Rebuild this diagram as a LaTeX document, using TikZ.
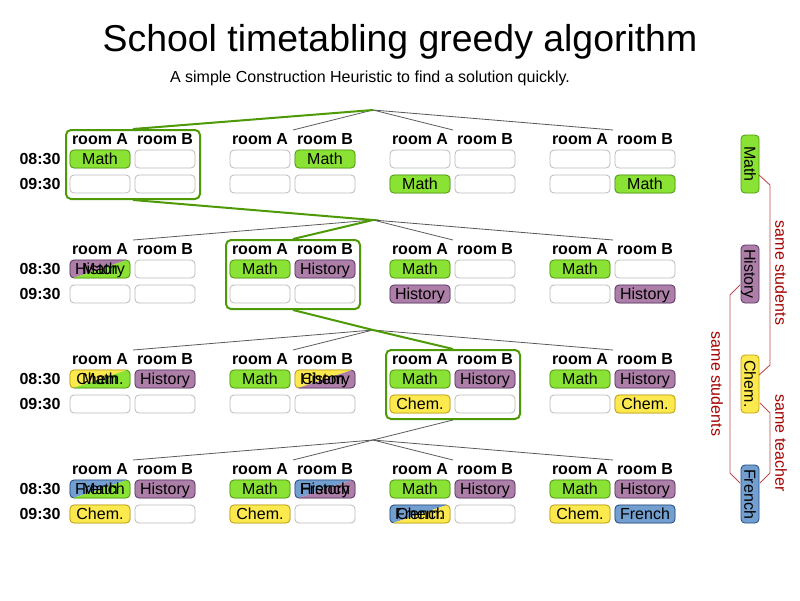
\documentclass[tikz,border=0pt]{standalone}
\usepackage{fontspec}
\setmainfont{Liberation Sans}
\usetikzlibrary{calc}
\definecolor{mathfill}{HTML}{8AE234}\definecolor{mathline}{HTML}{4E9A06}
\definecolor{histfill}{HTML}{AD7FA8}\definecolor{histline}{HTML}{5C3566}
\definecolor{chemfill}{HTML}{FCE94F}\definecolor{chemline}{HTML}{C4A000}
\definecolor{frenfill}{HTML}{729FCF}\definecolor{frenline}{HTML}{204A87}
\definecolor{emptyline}{HTML}{BABABA}
\definecolor{hlgreen}{HTML}{4E9A06}
\definecolor{conred}{HTML}{A40000}
\tikzset{
  cellbox/.style={rectangle, rounded corners=4pt, minimum width=60pt, minimum height=18pt,
    inner sep=0pt, line width=0.8pt, text height=11.5pt, text depth=0pt,
    font=\fontsize{16}{16}\selectfont},
  csEmpty/.style={draw=emptyline, fill=white},
  csMath/.style={draw=mathline, fill=mathfill},
  csHist/.style={draw=histline, fill=histfill},
  csChem/.style={draw=chemline, fill=chemfill},
  csFren/.style={draw=frenline, fill=frenfill},
  roomlbl/.style={font=\bfseries\fontsize{16}{16}\selectfont, inner sep=0pt},
  timelbl/.style={font=\bfseries\fontsize{16}{16}\selectfont, inner sep=0pt},
  hlbox/.style={draw=hlgreen, line width=2pt, rounded corners=5pt, minimum width=134pt, minimum height=69pt, inner sep=0pt},
  greenline/.style={draw=hlgreen, line width=2pt},
  thinline/.style={draw=black!65, line width=0.8pt},
  sidebox/.style={cellbox, rotate=-90, minimum width=58pt},
  conline/.style={draw=conred!70, line width=0.9pt},
  conlbl/.style={text=conred, rotate=-90, font=\fontsize{16}{16}\selectfont, inner sep=0pt},
}
\newcommand\course[6]{%
  \pgfmathsetmacro\cX{100+160*#2+65*#4}%
  \pgfmathsetmacro\cY{159+110*#1+25*#3}%
  \node[cellbox,#5] (k-#1-#2-#3-#4) at (\cX,\cY) {#6};}
\newcommand\clash[8]{%
  \pgfmathsetmacro\cX{100+160*#2+65*#4}%
  \pgfmathsetmacro\cY{159+110*#1+25*#3}%
  \begin{scope}
    \clip ({\cX-33},{\cY-11}) -- ({\cX+33},{\cY-11}) -- ({\cX-33},{\cY+11}) -- cycle;
    \node[cellbox,#5] at (\cX,\cY) {};
  \end{scope}
  \begin{scope}
    \clip ({\cX+33},{\cY-11}) -- ({\cX+33},{\cY+11}) -- ({\cX-33},{\cY+11}) -- cycle;
    \node[cellbox,#6] at (\cX,\cY) {};
  \end{scope}
  \node[cellbox] (k-#1-#2-#3-#4) at (\cX,\cY) {#7};
  \node[cellbox] (k2-#1-#2-#3-#4) at (\cX,\cY) {#8};}
\begin{document}
\begin{tikzpicture}[x=1pt,y=-1pt]
\useasboundingbox (0,0) rectangle (800,600);
\node[font=\fontsize{37.4}{37.4}\selectfont] (title) at (400,42) {School timetabling greedy algorithm};
\node[font=\fontsize{16}{16}\selectfont] (subtitle) at (370,78) {A simple Construction Heuristic to find a solution quickly.};
% coordinates
\foreach \L in {0,...,3}{
  \coordinate (hub-\L) at (373,{110+110*\L});
  \foreach \G in {0,...,3}{
    \coordinate (top-\L-\G) at ({133+160*\G},{130+110*\L});
  }
}
% highlight boxes
\node[hlbox] (hl-0) at (133,164.5) {};
\node[hlbox] (hl-1) at (293,274.5) {};
\node[hlbox] (hl-2) at (453,384.5) {};
% search tree lines
\draw[thinline] (hub-0) -- (top-0-1);
\draw[thinline] (hub-0) -- (top-0-2);
\draw[thinline] (hub-0) -- (top-0-3);
\draw[greenline] (hub-0) -- (hl-0.north);
\draw[thinline] (hub-1) -- (top-1-0);
\draw[thinline] (hub-1) -- (top-1-2);
\draw[thinline] (hub-1) -- (top-1-3);
\draw[greenline] (hl-0.south) -- (hub-1) -- (hl-1.north);
\draw[thinline] (hub-2) -- (top-2-0);
\draw[thinline] (hub-2) -- (top-2-1);
\draw[thinline] (hub-2) -- (top-2-3);
\draw[greenline] (hl-1.south) -- (hub-2) -- (hl-2.north);
\draw[thinline] (hl-2.south) -- (hub-3);
\foreach \G in {0,...,3}{\draw[thinline] (hub-3) -- (top-3-\G);}
% grid
\foreach \L in {0,...,3}{
  \node[timelbl] (t1-\L) at (40,{159+110*\L}) {08:30};
  \node[timelbl] (t2-\L) at (40,{184+110*\L}) {09:30};
  \foreach \G in {0,...,3}{
    \node[roomlbl] (ra-\L-\G) at ({100+160*\G},{139+110*\L}) {room A};
    \node[roomlbl] (rb-\L-\G) at ({165+160*\G},{139+110*\L}) {room B};
    \foreach \R in {0,1}{
      \foreach \C in {0,1}{
        \node[cellbox,csEmpty] (e-\L-\G-\R-\C) at ({100+160*\G+65*\C},{159+110*\L+25*\R}) {};
      }
    }
  }
}
% level 0
\course{0}{0}{0}{0}{csMath}{Math}
\course{0}{1}{0}{1}{csMath}{Math}
\course{0}{2}{1}{0}{csMath}{Math}
\course{0}{3}{1}{1}{csMath}{Math}
% level 1
\clash{1}{0}{0}{0}{csHist}{csMath}{History}{Math}
\course{1}{1}{0}{0}{csMath}{Math}
\course{1}{1}{0}{1}{csHist}{History}
\course{1}{2}{0}{0}{csMath}{Math}
\course{1}{2}{1}{0}{csHist}{History}
\course{1}{3}{0}{0}{csMath}{Math}
\course{1}{3}{1}{1}{csHist}{History}
% level 2
\clash{2}{0}{0}{0}{csChem}{csMath}{Chem.}{Math}
\course{2}{0}{0}{1}{csHist}{History}
\course{2}{1}{0}{0}{csMath}{Math}
\clash{2}{1}{0}{1}{csChem}{csHist}{Chem.}{History}
\course{2}{2}{0}{0}{csMath}{Math}
\course{2}{2}{0}{1}{csHist}{History}
\course{2}{2}{1}{0}{csChem}{Chem.}
\course{2}{3}{0}{0}{csMath}{Math}
\course{2}{3}{0}{1}{csHist}{History}
\course{2}{3}{1}{1}{csChem}{Chem.}
% level 3
\clash{3}{0}{0}{0}{csFren}{csMath}{French}{Math}
\course{3}{0}{0}{1}{csHist}{History}
\course{3}{0}{1}{0}{csChem}{Chem.}
\course{3}{1}{0}{0}{csMath}{Math}
\clash{3}{1}{0}{1}{csFren}{csHist}{French}{History}
\course{3}{1}{1}{0}{csChem}{Chem.}
\course{3}{2}{0}{0}{csMath}{Math}
\course{3}{2}{0}{1}{csHist}{History}
\clash{3}{2}{1}{0}{csFren}{csChem}{French}{Chem.}
\course{3}{3}{0}{0}{csMath}{Math}
\course{3}{3}{0}{1}{csHist}{History}
\course{3}{3}{1}{0}{csChem}{Chem.}
\course{3}{3}{1}{1}{csFren}{French}
% constraint side
\node[sidebox,csMath] (sMath) at (750,164) {Math};
\node[sidebox,csHist] (sHist) at (750,274) {History};
\node[sidebox,csChem] (sChem) at (750,384) {Chem.};
\node[sidebox,csFren] (sFren) at (750,494) {French};
\draw[conline] ([shift={(9,11)}]sMath.center) -- ([shift={(20,21)}]sMath.center)
  -- ([shift={(20,-19)}]sChem.center) -- ([shift={(9,-9)}]sChem.center);
\draw[conline] ([shift={(-10,11)}]sHist.center) -- ([shift={(-20,21)}]sHist.center)
  -- ([shift={(-20,-21)}]sFren.center) -- ([shift={(-10,-11)}]sFren.center);
\draw[conline] ([shift={(10,19)}]sChem.center) -- ([shift={(20,29)}]sChem.center)
  -- ([shift={(20,-21)}]sFren.center) -- ([shift={(10,-11)}]sFren.center);
\node[conlbl] (lbl1) at (781,273) {same students};
\node[conlbl] (lbl2) at (717,384) {same students};
\node[conlbl] (lbl3) at (781,443) {same teacher};
\end{tikzpicture}
\end{document}
